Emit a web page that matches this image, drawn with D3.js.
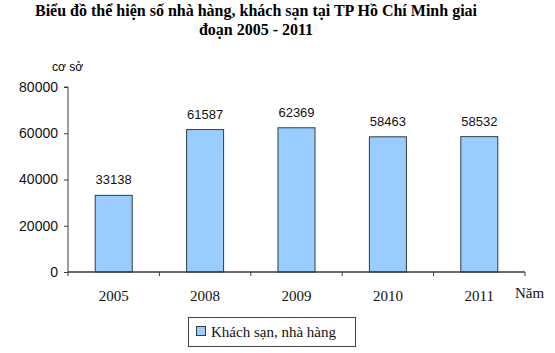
<!DOCTYPE html>
<html><head><meta charset="utf-8">
<script src="https://cdn.jsdelivr.net/npm/d3@7"></script>
<style>body{margin:0;background:#fff}svg{display:block}</style>
</head><body>
<script>
const categories = ["2005","2008","2009","2010","2011"];
const values = [33138, 61587, 62369, 58463, 58532];
const yTicks = [0, 20000, 40000, 60000, 80000];
const seriesName = "Khách sạn, nhà hàng";
const titleLines = ["Biểu đồ thể hiện số nhà hàng, khách sạn tại TP Hồ Chí Minh giai", "đoạn 2005 - 2011"];

const W = 555, H = 353;
const svg = d3.select("body").append("svg").attr("width", W).attr("height", H);
const x0 = 68, x1 = 525, yTop = 87, yBot = 272;
const x = d3.scaleBand().domain(categories).range([x0, x1]).paddingInner(0).paddingOuter(0);
const y = d3.scaleLinear().domain([0, 80000]).range([yBot, yTop]);
const serif = "'Liberation Serif','Times New Roman',serif";
const sans = "'Liberation Sans',Arial,sans-serif";
const axisColor = "#3a3a3a";

svg.selectAll("text.title").data(titleLines).join("text")
  .attr("x", 256).attr("y", (d,i) => 16 + i*19)
  .attr("text-anchor", "middle").attr("font-family", serif).attr("font-weight", "bold")
  .attr("font-size", 16).text(d => d);

svg.append("text").attr("x", 52).attr("y", 71).attr("font-family", sans).attr("font-size", 12).text("cơ sở");

// bars
const bw = 37;
svg.selectAll("rect.bar").data(values).join("rect")
  .attr("x", (d,i) => x(categories[i]) + x.bandwidth()/2 - bw/2)
  .attr("y", d => y(d)).attr("width", bw).attr("height", d => yBot - y(d))
  .attr("fill", "#99ccff").attr("stroke", "#2f3f3f").attr("stroke-width", 1);

svg.selectAll("text.val").data(values).join("text")
  .attr("x", (d,i) => x(categories[i]) + x.bandwidth()/2)
  .attr("y", d => y(d) - 11).attr("text-anchor", "middle")
  .attr("font-family", sans).attr("font-size", 13).attr("fill", "#111").text(d => d);

// y axis
const yAxis = d3.axisLeft(y).tickValues(yTicks).tickSize(4).tickPadding(6).tickFormat(d3.format("d"));
const gy = svg.append("g").attr("transform", `translate(${x0},0)`).call(yAxis);
gy.select(".domain").attr("stroke", axisColor).attr("d", `M-4,${yTop}H0V${yBot}`);
gy.selectAll(".tick line").attr("stroke", axisColor);
gy.selectAll(".tick text").attr("font-family", sans).attr("font-size", 14).attr("fill", "#111");

// x axis
const gx = svg.append("g").attr("transform", `translate(0,${yBot})`);
gx.append("line").attr("x1", x0).attr("x2", x1).attr("stroke", axisColor).attr("stroke-width", 1.5);
const bounds = categories.map(c => x(c)).concat([x1]);
gx.selectAll("line.t").data(bounds).join("line")
  .attr("x1", d => d).attr("x2", d => d).attr("y1", 0).attr("y2", 4).attr("stroke", axisColor);
gx.selectAll("text.c").data(categories).join("text")
  .attr("x", d => x(d) + x.bandwidth()/2).attr("y", 29).attr("text-anchor", "middle")
  .attr("font-family", serif).attr("font-size", 15).attr("fill", "#111").text(d => d);
svg.append("text").attr("x", 515).attr("y", 298).attr("font-family", serif).attr("font-size", 15).attr("fill", "#111").text("Năm");

// legend
const lg = svg.append("g");
lg.append("rect").attr("x", 188.5).attr("y", 317.5).attr("width", 167).attr("height", 29)
  .attr("fill", "#fff").attr("stroke", "#444");
lg.append("rect").attr("x", 196.5).attr("y", 326.5).attr("width", 9).attr("height", 9)
  .attr("fill", "#99ccff").attr("stroke", "#2f3f3f");
lg.append("text").attr("x", 211).attr("y", 337).attr("font-family", serif).attr("font-size", 15).attr("fill", "#111").text(seriesName);
</script>
</body></html>
